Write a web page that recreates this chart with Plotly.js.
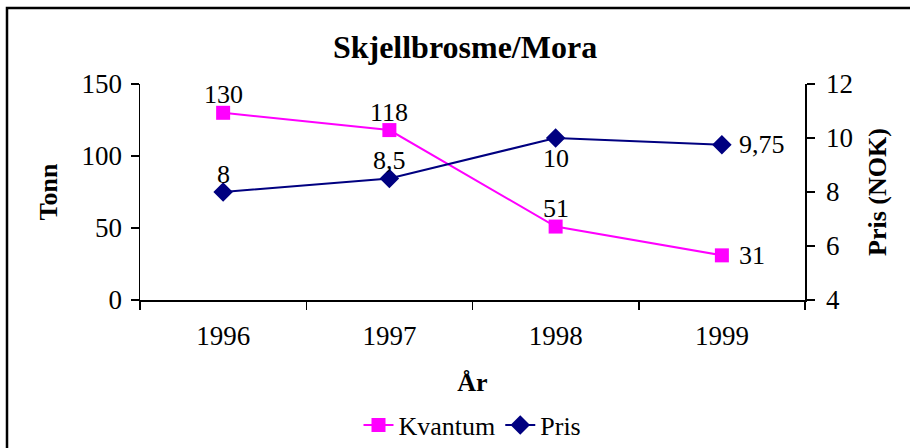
<!DOCTYPE html>
<html>
<head>
<meta charset="utf-8">
<script src="https://cdn.plot.ly/plotly-3.0.1.min.js"></script>
<style>html,body{margin:0;padding:0;background:#fff;}#chart{width:910px;height:448px;}</style>
</head>
<body>
<div id="chart"></div>
<script>
const years = ['1996', '1997', '1998', '1999'];
const kvantum = [130, 118, 51, 31];
const pris = [8, 8.5, 10, 9.75];
// label placement per point: 'above', 'below', 'right'
const kvantumPos = ['above', 'above', 'above', 'right'];
const prisPos = ['above', 'above', 'below', 'right'];

const fmt = v => String(v).replace('.', ',');
const F = "'Liberation Serif', 'Times New Roman', serif";

const traces = [
  {
    x: years, y: kvantum, name: 'Kvantum', type: 'scatter', mode: 'lines+markers',
    line: {color: '#FF00FF', width: 2},
    marker: {symbol: 'square', size: 14, color: '#FF00FF'},
    yaxis: 'y', cliponaxis: false
  },
  {
    x: years, y: pris, name: 'Pris', type: 'scatter', mode: 'lines+markers',
    line: {color: '#000080', width: 2},
    marker: {symbol: 'diamond', size: 15, color: '#000080'},
    yaxis: 'y2', cliponaxis: false
  }
];

function labelAnn(i, y, yref, pos) {
  const a = {x: i, y: y, xref: 'x', yref: yref, text: fmt(y), showarrow: false,
    font: {family: F, size: 26, color: '#000'}, yanchor: 'middle'};
  if (pos === 'above') { a.xanchor = 'center'; a.yshift = 18; }
  else if (pos === 'below') { a.xanchor = 'center'; a.yshift = -20; }
  else { a.xanchor = 'left'; a.xshift = 15; }
  return a;
}
const annotations = [];
years.forEach((yr, i) => annotations.push(labelAnn(i, kvantum[i], 'y', kvantumPos[i])));
years.forEach((yr, i) => annotations.push(labelAnn(i, pris[i], 'y2', prisPos[i])));

const axisCommon = {showgrid: false, zeroline: false, linecolor: '#000', linewidth: 1.5,
  tickcolor: '#000', tickwidth: 1.5, tickfont: {family: F, size: 27, color: '#000'},
  automargin: false};

const layout = {
  width: 910, height: 448,
  margin: {l: 140, r: 105, t: 84, b: 148},
  paper_bgcolor: '#fff', plot_bgcolor: '#fff',
  font: {family: F, color: '#000'},
  title: {text: '<b>Skjellbrosme/Mora</b>', font: {family: F, size: 32, color: '#000'},
    x: 0.511, xanchor: 'center', y: 0.895, yanchor: 'middle', automargin: false},
  xaxis: Object.assign({}, axisCommon, {
    type: 'category', tickson: 'boundaries', ticks: 'outside', ticklen: 8,
    ticklabelstandoff: 11,
    showline: true, range: [-0.5, 3.5],
    title: {text: '<b>År</b>', font: {family: F, size: 26, color: '#000'}, standoff: 23}
  }),
  xaxis2: Object.assign({}, axisCommon, {
    type: 'category', tickson: 'boundaries', ticks: 'inside', ticklen: 8,
    showline: false, showticklabels: false, overlaying: 'x', range: [-0.5, 3.5],
    categoryarray: years, categoryorder: 'array', tickvals: years
  }),
  yaxis: Object.assign({}, axisCommon, {
    range: [0, 150], dtick: 50, ticks: 'outside', ticklen: 8, showline: true,
    ticklabelstandoff: 3,
    title: {text: '<b>Tonn</b>', font: {family: F, size: 26, color: '#000'}, standoff: 16}
  }),
  yaxis3: Object.assign({}, axisCommon, {
    range: [0, 150], dtick: 50, ticks: 'inside', ticklen: 8, showline: false,
    showticklabels: false, overlaying: 'y', side: 'left'
  }),
  yaxis2: Object.assign({}, axisCommon, {
    range: [4, 12], dtick: 2, ticks: 'outside', ticklen: 8, showline: true,
    overlaying: 'y', side: 'right', ticklabelstandoff: 6,
    title: {text: '<b>Pris (NOK)</b>', font: {family: F, size: 26, color: '#000'}, standoff: 16}
  }),
  yaxis4: Object.assign({}, axisCommon, {
    range: [4, 12], dtick: 2, ticks: 'inside', ticklen: 8, showline: false,
    showticklabels: false, overlaying: 'y', side: 'right'
  }),
  showlegend: true,
  legend: {orientation: 'h', x: 0.5, xref: 'paper', xanchor: 'center',
    yref: 'container', y: 0.051, yanchor: 'middle',
    font: {family: F, size: 26, color: '#000'}, bgcolor: 'rgba(0,0,0,0)'},
  annotations: annotations,
  shapes: [{
    type: 'path', xref: 'paper', yref: 'paper',
    path: 'M -0.2 -0.72 L -0.2 1.352 L 1.17 1.352',
    line: {color: '#000', width: 2.5}
  }]
};

Plotly.newPlot('chart', traces, layout, {displayModeBar: false, staticPlot: true});
</script>
</body>
</html>
